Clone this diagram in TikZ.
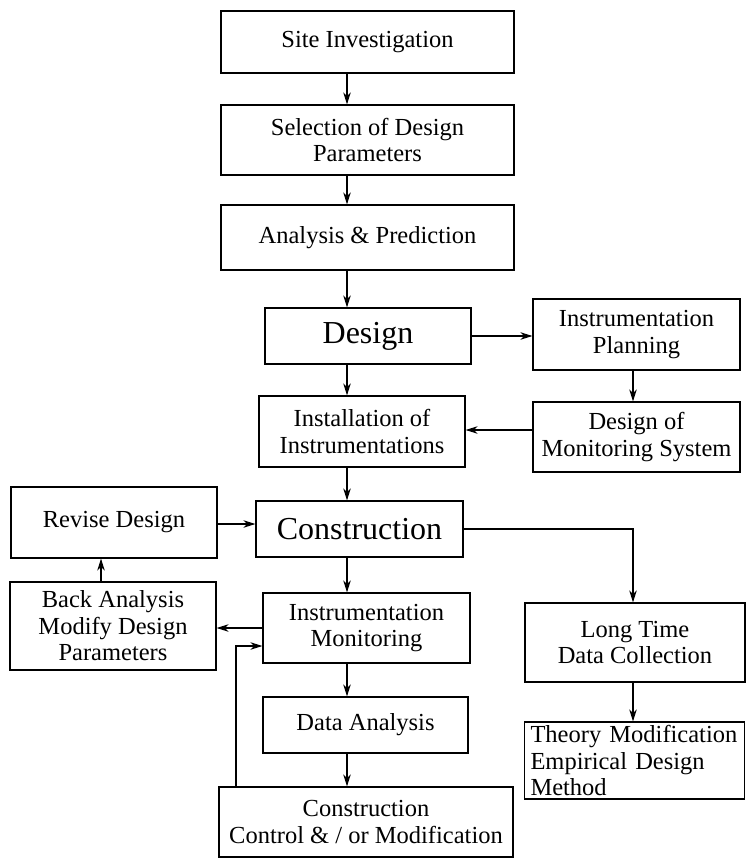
\documentclass[tikz,border=0pt]{standalone}
\usepackage{fontspec}
\setmainfont{Liberation Serif}
\usetikzlibrary{arrows.meta}
\begin{document}
\begin{tikzpicture}[x=1pt,y=-1pt,
  box/.style={draw, line width=1.2pt, inner sep=2pt, align=center,
    font=\fontsize{24.5}{26.5}\selectfont},
  bigtext/.style={font=\fontsize{32}{35}\selectfont},
  arr/.style={line width=1.1pt, -{Stealth[length=12pt,width=7.5pt]}},
  ln/.style={line width=1.1pt}]
\useasboundingbox (0,0) rectangle (747,859);
% main column
\node[box, minimum width=293pt, minimum height=62pt] (site) at (367.5,42) {Site Investigation};
\node[box, minimum width=293pt, minimum height=70pt] (sel) at (367.5,140) {Selection of Design\\Parameters};
\node[box, minimum width=293pt, minimum height=65pt] (ana) at (367.5,237.5) {Analysis \& Prediction};
\node[box, bigtext, minimum width=206pt, minimum height=56pt] (design) at (368,336) {Design};
\node[box, minimum width=206pt, minimum height=71pt] (inst) at (362,431.5) {Installation of\\Instrumentations};
\node[box, bigtext, minimum width=207pt, minimum height=56pt] (cons) at (359.5,529) {Construction};
\node[box, minimum width=207pt, minimum height=70pt] (imon) at (366.5,628) {Instrumentation\\Monitoring};
\node[box, minimum width=205pt, minimum height=56pt] (data) at (365.5,725) {Data Analysis};
\node[box, minimum width=294pt, minimum height=70pt] (ctrl) at (366,822) {Construction\\Control \& / or Modification};
% right column
\node[box, minimum width=207pt, minimum height=71pt] (plan) at (636.5,334.5) {Instrumentation\\Planning};
\node[box, minimum width=207pt, minimum height=70pt] (mon) at (636.5,437) {Design of\\Monitoring System};
\node[box, minimum width=220pt, minimum height=79pt] (long) at (635,642.5) {Long Time\\Data Collection};
\node[box, align=left, text width=208pt, inner xsep=6pt, minimum height=77pt] (theory) at (634.5,760.5) {Theory Modification\\Empirical Design\\Method};
% left column
\node[box, minimum width=206pt, minimum height=71pt] (revise) at (114,522.5) {Revise Design};
\node[box, minimum width=206pt, minimum height=88pt] (back) at (113,626) {Back Analysis\\Modify Design\\Parameters};
% helper coordinates
\coordinate (axis) at (347,0);
\coordinate (xr) at (633,0);
\coordinate (xb) at (101,0);
\coordinate (ymi) at (0,430);
\coordinate (yrc) at (0,524);
\coordinate (fb) at (236,646);
% main column arrows
\draw[arr] (site.south -| axis) -- (sel.north -| axis);
\draw[arr] (sel.south -| axis) -- (ana.north -| axis);
\draw[arr] (ana.south -| axis) -- (design.north -| axis);
\draw[arr] (design.south -| axis) -- (inst.north -| axis);
\draw[arr] (inst.south -| axis) -- (cons.north -| axis);
\draw[arr] (cons.south -| axis) -- (imon.north -| axis);
\draw[arr] (imon.south -| axis) -- (data.north -| axis);
\draw[arr] (data.south -| axis) -- (ctrl.north -| axis);
% right side
\draw[arr] (design.east) -- (design.east -| plan.west);
\draw[arr] (plan.south -| xr) -- (mon.north -| xr);
\draw[arr] (mon.west |- ymi) -- (inst.east |- ymi);
\draw[arr] (cons.east) -| (long.north -| xr);
\draw[arr] (long.south -| xr) -- (theory.north -| xr);
% left side
\draw[arr] (revise.east |- yrc) -- (cons.west |- yrc);
\draw[arr] (back.north -| xb) -- (revise.south -| xb);
\draw[arr] (imon.west) -- (imon.west -| back.east);
\draw[arr] (ctrl.north -| fb) |- (imon.west |- fb);
\end{tikzpicture}
\end{document}
